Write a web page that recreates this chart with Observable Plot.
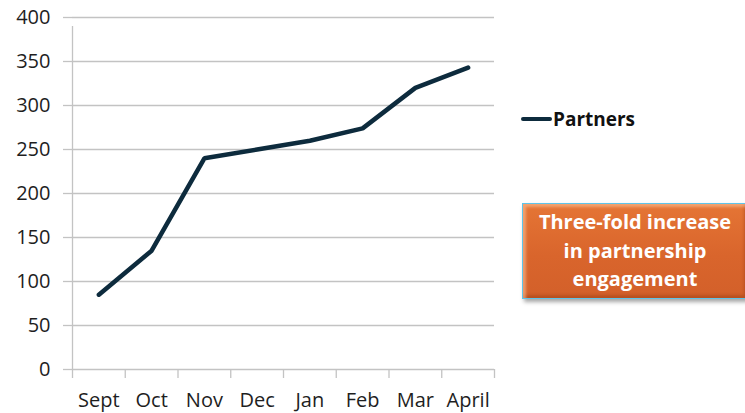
<!DOCTYPE html>
<html>
<head>
<meta charset="utf-8">
<script src="https://cdn.jsdelivr.net/npm/d3@7"></script>
<script src="https://cdn.jsdelivr.net/npm/@observablehq/plot@0.6"></script>
<style>
  html, body { margin: 0; padding: 0; background: #fff; overflow: hidden; }
  #wrap { position: relative; width: 745px; height: 413px; overflow: hidden; }
  #legend { position: absolute; left: 521px; top: 106px; display: flex; align-items: center;
    font-family: "Open Sans", sans-serif; font-weight: 700; font-size: 19px; color: #111; }
  #legend .sw { width: 31px; height: 4.5px; background: #0d2b3d; border-radius: 2px; margin-right: 1px; }
  #note { position: absolute; left: 522px; top: 203px; width: 226px; height: 96px;
    box-sizing: border-box; border: 1.5px solid #5ec4ea;
    background: linear-gradient(#e57535, #d9652c 55%, #d3602a);
    box-shadow: inset 4px 4px 3px -1px rgba(255,200,160,0.55), inset -4px -4px 3px -1px rgba(150,60,20,0.45), 2px 3px 4px rgba(0,0,0,0.35);
    display: flex; align-items: center; justify-content: center; text-align: center;
    font-family: "Open Sans", sans-serif; font-weight: 700; font-size: 20px; line-height: 28.5px; color: #fff; }
</style>
</head>
<body>
<div id="wrap"></div>
<script>
const months = ["Sept", "Oct", "Nov", "Dec", "Jan", "Feb", "Mar", "April"];
const partners = [85, 135, 240, 250, 260, 274, 320, 343];
const yTicks = [0, 50, 100, 150, 200, 250, 300, 350, 400];
const seriesName = "Partners";
const noteLines = ["Three-fold increase", "in partnership", "engagement"];

const data = months.map((m, i) => ({month: m, idx: i, value: partners[i]}));
const grid = "#c3c3c3";

const chart = Plot.plot({
  width: 745,
  height: 413,
  marginLeft: 72,
  marginRight: 251,
  marginTop: 17,
  marginBottom: 44,
  style: {fontFamily: "Open Sans, sans-serif", fontSize: "20px", color: "#1e1e1e", background: "#fff"},
  x: {type: "linear", domain: [0, months.length], axis: null},
  y: {domain: [0, 400], axis: null},
  marks: [
    Plot.gridY(yTicks, {stroke: grid, strokeOpacity: 1, strokeWidth: 1.3}),
    Plot.axisY(yTicks, {tickSize: 9, tickPadding: 13, stroke: grid, strokeWidth: 1.3, fill: "#1e1e1e", label: null}),
    Plot.ruleX([0], {y1: 0, y2: 400, stroke: grid, strokeWidth: 1.3, insetBottom: -9}),
    Plot.axisX(d3.range(0, months.length + 1), {tickSize: 9, tickFormat: () => "", stroke: grid, strokeWidth: 1.3, label: null}),
    Plot.axisX(data.map(d => d.idx + 0.5), {tickSize: 0, tickPadding: 23, tickFormat: v => months[Math.floor(v)], fill: "#1e1e1e", label: null}),
    Plot.line(data, {x: d => d.idx + 0.5, y: "value", stroke: "#0d2b3d", strokeWidth: 4.5, strokeLinejoin: "miter", strokeLinecap: "round"})
  ]
});

const wrap = document.getElementById("wrap");
wrap.appendChild(chart);

const legend = document.createElement("div");
legend.id = "legend";
legend.innerHTML = `<div class="sw"></div><span>${seriesName}</span>`;
wrap.appendChild(legend);

const note = document.createElement("div");
note.id = "note";
note.innerHTML = `<div>${noteLines.join("<br>")}</div>`;
wrap.appendChild(note);
</script>
</body>
</html>
